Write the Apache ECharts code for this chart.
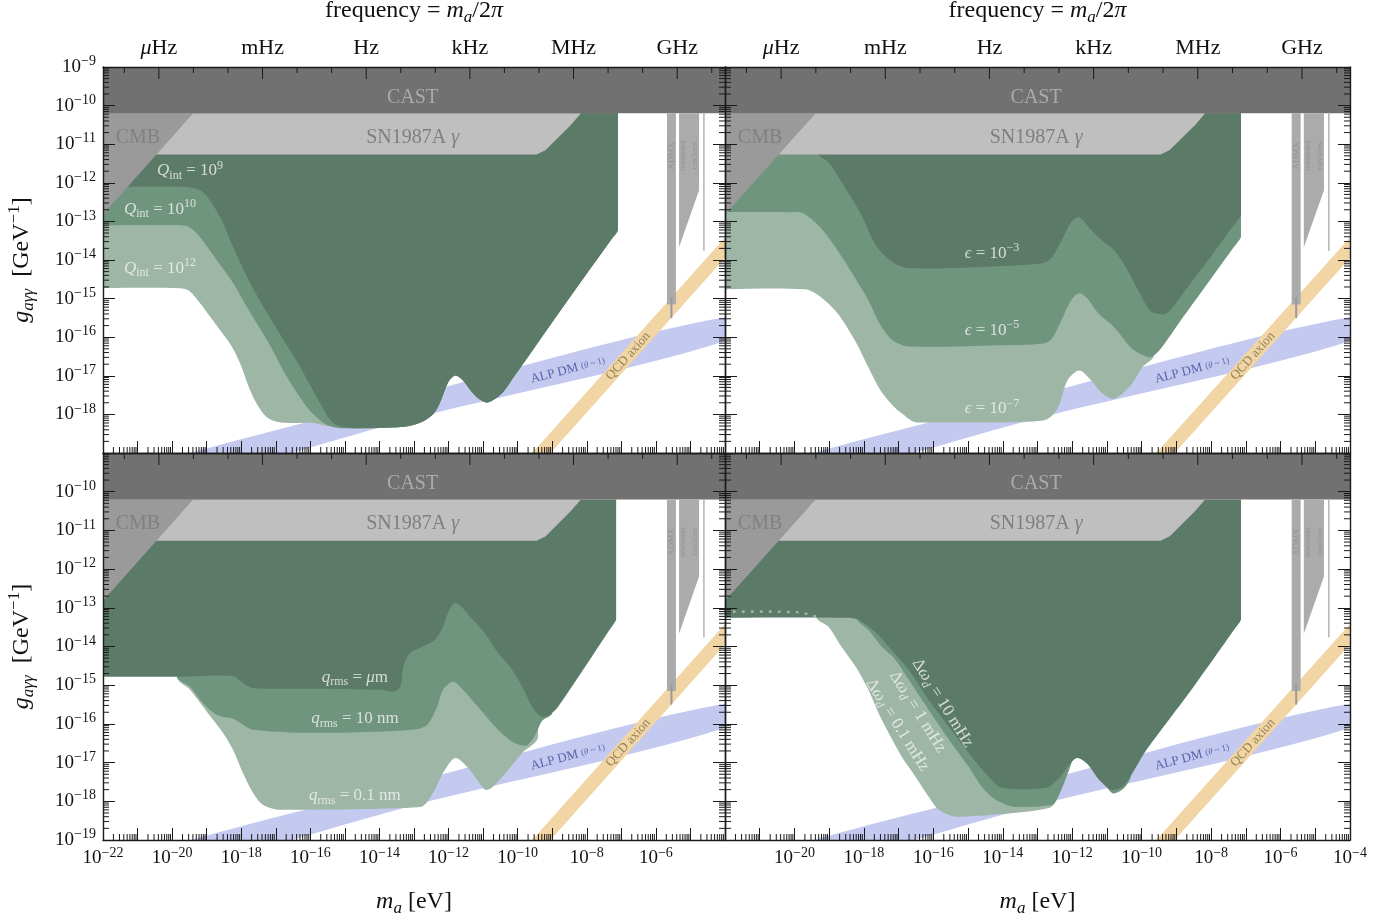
<!DOCTYPE html>
<html>
<head>
<meta charset="utf-8">
<script src="https://cdn.jsdelivr.net/npm/echarts@6/dist/echarts.min.js"></script>
<style>
html, body { margin: 0; padding: 0; background: #fff; }
#chart { width: 1398px; height: 920px; }
</style>
</head>
<body>
<div id="chart"></div>
<script>
// all values are log10: x = log10(m_a / eV), y = log10(g / GeV^-1)
// regions run a little past the left edge (x = -23); the grid clips them
var X_RANGE = [-22, -4];
var Y_RANGE = [-19, -9];
var FREQ_LABELS = ['{i|μ}Hz', 'mHz', 'Hz', 'kHz', 'MHz', 'GHz'];
var FREQ_MAJOR_EXP = [-6, -3, 0, 3, 6, 9];
var FREQ_MINOR_EXP = [-7, -5, -4, -2, -1, 1, 2, 4, 5, 7, 8, 10];
var LOG_H_EV = Math.log10(4.135667e-15); // m_a = h f, h in eV s

// limits shown in every panel
var CAST = [[-22, -9], [-4, -9], [-4, -10.2], [-22, -10.2]];
var SN1987A = [[-22, -10.2], [-8.17, -10.2], [-8.46, -10.5], [-9.19, -11.15], [-9.45, -11.27], [-22, -11.27]];
var CMB = [[-22, -10.2], [-19.39, -10.2], [-22, -12.82]];
var ADMX = [[-5.68, -10.2], [-5.42, -10.2], [-5.42, -15.15], [-5.68, -15.15]];
var ADMX_TAIL = [[-5.55, -15.0], [-5.55, -15.48]];
var CAVITIES = [[-5.33, -10.2], [-4.75, -10.2], [-4.75, -12.19], [-5.33, -13.67]];
var CAVITY_LINE = [[-4.61, -10.2], [-4.61, -13.75]];
var ALP_UPPER = [[-22, -19.7], [-13, -17.5], [-4, -15.48]];
var ALP_LOWER = [[-22, -20.3], [-13, -18.1], [-4, -16.1]];
var QCD_UPPER = [[-10.5, -19.92], [-4, -13.42]];
var QCD_LOWER = [[-10.5, -20.45], [-4, -13.95]];

// top left: Q_int
var TL_EDGE = [[-23, -10.2], [-7.1, -10.2], [-7.1, -12.95], [-7.1, -13.23], [-7.3, -13.48], [-8.55, -15.04], [-10.12, -17.04], [-10.45, -17.45], [-10.87, -17.69], [-11.15, -17.58], [-11.36, -17.38], [-11.6, -17.1], [-11.8, -16.99], [-11.98, -17.12], [-12.09, -17.33], [-12.25, -17.7], [-12.43, -17.98], [-12.81, -18.21], [-13.3, -18.32], [-14.75, -18.36]];
var TL_Q9 = [[-15.33, -18.23], [-15.71, -17.72], [-16.29, -16.78], [-17.07, -15.64], [-17.74, -14.6], [-18.23, -13.67], [-18.61, -12.89], [-19.1, -12.25], [-19.57, -12.11], [-22.5, -12.11], [-23, -12.11]];
var TL_Q10 = [[-15.13, -18.36], [-15.5, -18.28], [-15.71, -18.16], [-16.09, -17.82], [-16.67, -17.04], [-17.25, -16.08], [-17.83, -15.23], [-18.23, -14.6], [-18.7, -14.01], [-19.19, -13.41], [-19.5, -13.15], [-19.77, -13.1], [-22.5, -13.1], [-23, -13.1]];
var TL_Q12 = [[-15.5, -18.3], [-15.91, -18.22], [-16.87, -18.21], [-17.25, -18.08], [-17.5, -17.8], [-17.74, -17.38], [-18.03, -16.68], [-18.3, -16.2], [-18.61, -15.82], [-19.19, -15.12], [-19.5, -14.8], [-19.77, -14.73], [-22.5, -14.73], [-23, -14.73]];

// top right: epsilon
var TR_E3 = [[-19.31, -10.2], [-7.14, -10.2], [-7.14, -12.6], [-7.14, -12.84], [-7.35, -13.1], [-8.04, -13.95], [-8.91, -14.99], [-9.2, -15.32], [-9.4, -15.41], [-9.6, -15.38], [-9.77, -15.3], [-10.09, -14.8], [-10.45, -14.2], [-10.79, -13.75], [-11.25, -13.41], [-11.57, -13.1], [-11.8, -12.89], [-12.03, -13.02], [-12.2, -13.3], [-12.38, -13.62], [-12.6, -13.95], [-12.84, -14.08], [-14.11, -14.16], [-16.71, -14.21], [-17.17, -14.06], [-17.64, -13.64], [-18.1, -12.79], [-18.68, -11.93], [-19.02, -11.46], [-19.31, -11.26]];
var TR_E5 = [[-23, -10.2], [-7.14, -10.2], [-7.14, -13.2], [-7.14, -13.41], [-7.35, -13.67], [-8.04, -14.53], [-8.91, -15.61], [-9.5, -16.35], [-9.77, -16.52], [-10.06, -16.42], [-10.32, -16.26], [-10.79, -15.74], [-11.25, -15.38], [-11.57, -14.99], [-11.8, -14.86], [-12.03, -15.04], [-12.38, -15.69], [-12.6, -16.05], [-12.84, -16.16], [-14.11, -16.21], [-16.71, -16.24], [-17.17, -16.08], [-17.52, -15.69], [-17.87, -15.04], [-18.21, -14.53], [-18.76, -13.75], [-19.23, -13.18], [-19.75, -12.79], [-20.18, -12.76], [-22.5, -12.76], [-23, -12.76]];
var TR_E7 = [[-23, -12.5], [-9.63, -12.5], [-9.63, -16.45], [-9.98, -16.78], [-10.32, -17.25], [-10.79, -17.59], [-11.13, -17.46], [-11.45, -17.12], [-11.8, -16.86], [-12.14, -17.12], [-12.38, -17.77], [-12.6, -18.05], [-12.84, -18.16], [-14.11, -18.21], [-16.48, -18.21], [-16.94, -17.95], [-17.17, -17.77], [-17.52, -17.38], [-17.87, -16.78], [-18.21, -16.16], [-18.76, -15.38], [-19.23, -14.97], [-19.69, -14.76], [-22.5, -14.76], [-23, -14.76]];

// bottom left: q_rms
var BL_UM = [[-23, -10.2], [-7.15, -10.2], [-7.15, -13.1], [-7.15, -13.31], [-7.35, -13.58], [-8.83, -15.56], [-9.05, -15.75], [-9.29, -15.82], [-9.55, -15.6], [-9.87, -15.04], [-10.2, -14.55], [-10.57, -14.16], [-10.8, -13.85], [-11.03, -13.57], [-11.38, -13.23], [-11.6, -13.0], [-11.81, -12.87], [-12.0, -13.1], [-12.16, -13.49], [-12.35, -13.78], [-12.51, -13.9], [-12.82, -14.03], [-13.11, -14.16], [-13.3, -14.5], [-13.4, -15.04], [-13.61, -15.17], [-13.98, -15.12], [-15.92, -15.09], [-17.66, -15.07], [-17.95, -14.94], [-18.24, -14.76], [-19.86, -14.78], [-22.5, -14.78], [-23, -14.78]];
var BL_10NM = [[-19.86, -10.5], [-9.0, -10.5], [-9.0, -15.72], [-9.29, -15.92], [-9.5, -16.3], [-9.76, -16.57], [-10.1, -16.49], [-10.57, -16.15], [-11.15, -15.56], [-11.58, -15.12], [-11.87, -14.91], [-12.16, -15.12], [-12.33, -15.56], [-12.62, -16.02], [-13.03, -16.15], [-15.92, -16.23], [-17.66, -16.15], [-17.95, -16.02], [-18.24, -15.87], [-18.7, -15.77], [-19.11, -15.46], [-19.48, -15.04], [-19.86, -14.78]];
var BL_01NM = [[-19.86, -10.5], [-9.41, -10.5], [-9.41, -16.34], [-9.87, -16.75], [-10.45, -17.37], [-10.89, -17.71], [-11.17, -17.45], [-11.46, -17.11], [-11.81, -16.88], [-12.16, -17.27], [-12.45, -17.78], [-12.82, -18.15], [-16.88, -18.22], [-17.37, -18.09], [-17.66, -17.78], [-17.95, -17.27], [-18.24, -16.67], [-18.53, -16.23], [-18.99, -15.69], [-19.48, -15.12], [-19.86, -14.78]];

// bottom right: delta omega_d
var BR_10MHZ = [[-23, -10.2], [-7.14, -10.2], [-7.14, -13.1], [-7.14, -13.31], [-7.35, -13.58], [-8.53, -15.07], [-9.86, -16.67], [-10.5, -17.58], [-10.84, -17.71], [-11.22, -17.45], [-11.57, -17.03], [-11.86, -16.88], [-12.09, -17.06], [-12.38, -17.4], [-12.75, -17.65], [-14.02, -17.65], [-14.4, -17.37], [-14.98, -16.75], [-15.55, -16.08], [-16.13, -15.38], [-16.71, -14.6], [-17.29, -14.0], [-17.66, -13.64], [-18.16, -13.31], [-18.5, -13.26], [-22.5, -13.26], [-23, -13.26]];
var BR_1MHZ = [[-18.2, -12.5], [-18.2, -13.28], [-17.87, -13.57], [-17.49, -14.0], [-17.09, -14.34], [-16.71, -14.86], [-16.13, -15.64], [-15.55, -16.41], [-14.98, -17.11], [-14.6, -17.63], [-14.2, -17.96], [-13.62, -18.15], [-12.58, -18.09], [-12.38, -17.84], [-12.09, -17.19], [-11.86, -16.72], [-11.51, -16.88], [-11.22, -17.32], [-10.84, -17.79], [-10.5, -17.65], [-10.3, -17.3], [-10.3, -12.5]];
var BR_01MHZ = [[-19.37, -12.5], [-19.37, -13.26], [-19.02, -13.49], [-18.65, -14.0], [-18.24, -14.52], [-17.87, -15.12], [-17.58, -15.72], [-17.29, -16.23], [-16.91, -16.85], [-16.51, -17.37], [-16.13, -17.89], [-15.84, -18.22], [-15.35, -18.4], [-14.31, -18.35], [-12.66, -18.17], [-12.46, -17.96], [-12.2, -16.0], [-12.2, -12.5]];
var BR_DOTTED = [[-22, -13.1], [-20.5, -13.1], [-19.8, -13.12], [-19.4, -13.22]];

var FONT = '"Liberation Serif", "DejaVu Serif", serif';
var INK = '#1a1a1a';
var COL = {
  cast: '#717171', sn: '#bfbfbf', cmb: '#9a9a9a', dark: '#5b7a67', mid: '#70957e', light: '#9db6a6',
  alp: '#c3c9ef', qcd: '#f1d5a5', admx: '#ababab'
};
var MINOR = [2, 3, 4, 5, 6, 7, 8, 9].map(function (k) { return Math.log10(k); });

function rich(size) {
  var s = Math.round(size * 0.7);
  var lh = Math.round(size * 1.3);
  return {
    t: { fontFamily: FONT, fontSize: size, lineHeight: lh },
    i: { fontFamily: FONT, fontSize: size, lineHeight: lh, fontStyle: 'italic' },
    sub: { fontFamily: FONT, fontSize: s, lineHeight: s, verticalAlign: 'bottom' },
    subi: { fontFamily: FONT, fontSize: s, lineHeight: s, verticalAlign: 'bottom', fontStyle: 'italic' },
    sup: { fontFamily: FONT, fontSize: s, lineHeight: s, verticalAlign: 'top' },
    p: { fontFamily: FONT, fontSize: Math.round(size * 0.72) },
    pi: { fontFamily: FONT, fontSize: Math.round(size * 0.72), fontStyle: 'italic' }
  };
}

function area(g, pts, color, z, smooth) {
  return {
    type: 'custom', xAxisIndex: 2 * g, yAxisIndex: 2 * g, z: z, silent: true, clip: true,
    data: pts,
    renderItem: function (params, api) {
      if (params.dataIndex !== 0) return null;
      var px = pts.map(function (p) { return api.coord(p); });
      var shape = { points: px };
      if (smooth) {
        var xs = px.map(function (q) { return q[0]; }), ys = px.map(function (q) { return q[1]; });
        shape.smooth = smooth;
        shape.smoothConstraint = [[Math.min.apply(null, xs), Math.min.apply(null, ys)], [Math.max.apply(null, xs), Math.max.apply(null, ys)]];
      }
      return { type: 'polygon', shape: shape, style: { fill: color } };
    }
  };
}

function path(g, pts, color, width, dash, z) {
  return {
    type: 'line', xAxisIndex: 2 * g, yAxisIndex: 2 * g, data: pts, symbol: 'none', z: z, silent: true,
    lineStyle: { color: color, width: width, type: dash || 'solid', cap: 'round' }
  };
}

function labels(g, items) {
  return {
    type: 'scatter', xAxisIndex: 2 * g, yAxisIndex: 2 * g, z: 15, silent: true, symbolSize: 1,
    itemStyle: { color: 'rgba(0,0,0,0)' },
    label: { show: true, position: 'inside' },
    data: items.map(function (it) {
      return {
        value: [it[0], it[1]],
        label: {
          show: true, position: 'inside', formatter: (function (s) { return function () { return s; }; })(it[2]),
          color: it[3], fontSize: it[4], fontFamily: FONT, rotate: it[5] || 0, rich: rich(it[4]),
          lineHeight: Math.round(it[4] * 1.1)
        }
      };
    })
  };
}

function ticks(g) {
  var row = g >> 1;
  var data = [];
  for (var d = X_RANGE[0]; d < X_RANGE[1]; d++) MINOR.forEach(function (f) { data.push([d + f, 0, 0]); });
  for (var e = Y_RANGE[0]; e < Y_RANGE[1]; e++) MINOR.forEach(function (f) { data.push([e + f, 1, 0]); });
  FREQ_MINOR_EXP.forEach(function (k) { data.push([k + LOG_H_EV, 2, 0]); });
  FREQ_MAJOR_EXP.forEach(function (k, i) { data.push([k + LOG_H_EV, 3, i]); });
  function ln(x1, y1, x2, y2) {
    return { type: 'line', shape: { x1: x1, y1: y1, x2: x2, y2: y2 }, style: { stroke: INK, lineWidth: 1 } };
  }
  return {
    type: 'custom', xAxisIndex: 2 * g, yAxisIndex: 2 * g, z: 30, silent: true, clip: false,
    data: data,
    renderItem: function (params, api) {
      var v = api.value(0), kind = api.value(1), idx = api.value(2);
      var ch = [];
      if (kind === 0) {
        var p = api.coord([v, Y_RANGE[0]]);
        ch.push(ln(p[0], p[1], p[0], p[1] - 6));
      } else if (kind === 1) {
        var a = api.coord([X_RANGE[0], v]), b = api.coord([X_RANGE[1], v]);
        ch.push(ln(a[0], a[1], a[0] + 6, a[1]), ln(b[0], b[1], b[0] - 6, b[1]));
      } else {
        var q = api.coord([v, Y_RANGE[1]]);
        ch.push(ln(q[0], q[1], q[0], q[1] + (kind === 3 ? 12 : 6)));
        if (kind === 3 && row === 0) {
          ch.push({
            type: 'text', x: q[0], y: q[1] - 8,
            style: {
              text: FREQ_LABELS[idx], fill: '#111', font: '22px ' + FONT,
              align: 'center', verticalAlign: 'bottom', textAlign: 'center', textVerticalAlign: 'bottom',
              rich: { i: { fontStyle: 'italic', fontFamily: FONT, fontSize: 22 } }
            }
          });
        }
      }
      return { type: 'group', children: ch };
    }
  };
}

var PANELS = [
  {
    areas: [TL_EDGE.concat(TL_Q12), TL_EDGE.concat(TL_Q10), TL_EDGE.concat(TL_Q9)],
    text: [
      [-19.48, -11.69, '{i|Q}{sub|int}{t| = 10}{sup|9}', '#f4f4f4', 17],
      [-20.35, -12.68, '{i|Q}{sub|int}{t| = 10}{sup|10}', '#f4f4f4', 17],
      [-20.35, -14.21, '{i|Q}{sub|int}{t| = 10}{sup|12}', '#f4f4f4', 17]
    ]
  },
  {
    areas: [TR_E7, TR_E5, TR_E3],
    text: [
      [-14.31, -13.82, '{i|ϵ}{t| = 10}{sup|−3}', '#f4f4f4', 17],
      [-14.31, -15.82, '{i|ϵ}{t| = 10}{sup|−5}', '#f4f4f4', 17],
      [-14.31, -17.85, '{i|ϵ}{t| = 10}{sup|−7}', '#f4f4f4', 17]
    ]
  },
  {
    areas: [BL_01NM, BL_10NM, BL_UM],
    text: [
      [-14.71, -14.79, '{i|q}{sub|rms}{t| = }{i|μ}{t|m}', '#f4f4f4', 17],
      [-14.71, -15.87, '{i|q}{sub|rms}{t| = 10 nm}', '#f4f4f4', 17],
      [-14.71, -17.86, '{i|q}{sub|rms}{t| = 0.1 nm}', '#f4f4f4', 17]
    ]
  },
  {
    areas: [BR_01MHZ, BR_1MHZ, BR_10MHZ],
    text: [
      [-15.73, -15.46, '{t|Δ}{i|ω}{subi|d}{t| = 10 mHz}', '#f4f4f4', 17, -58],
      [-16.45, -15.69, '{t|Δ}{i|ω}{subi|d}{t| = 1 mHz}', '#f4f4f4', 17, -58],
      [-17.03, -16.03, '{t|Δ}{i|ω}{subi|d}{t| = 0.1 mHz}', '#f4f4f4', 17, -58]
    ],
    dotted: BR_DOTTED
  }
];

var COMMON_TEXT = [
  [-13.04, -9.79, '{t|CAST}', '#b9b9b9', 20],
  [-13.04, -10.82, '{t|SN1987A }{i|γ}', '#6f6f6f', 20],
  [-20.99, -10.82, '{t|CMB}', '#7b7b7b', 20],
  [-5.55, -11.3, '{t|ADMX}', '#8c8c8c', 9, 90],
  [-5.04, -11.3, '{t|resonant}\n{t|cavities}', '#8c8c8c', 9, 90],
  [-8.55, -16.85, '{t|ALP DM }{p|(}{pi|θ}{p| ~ 1)}', '#3f4c9c', 13, 14.5],
  [-6.8, -16.49, '{t|QCD axion}', '#7c6a44', 13, 48]
];

var grids = [
  { left: 103, top: 67, width: 622, height: 386 },
  { left: 725, top: 67, width: 625, height: 386 },
  { left: 103, top: 453, width: 622, height: 387 },
  { left: 725, top: 453, width: 625, height: 387 }
].map(function (g) { g.containLabel = false; g.outerBoundsMode = 'none'; return g; });

var tickRich = {
  b: { fontFamily: FONT, fontSize: 19, lineHeight: 25, color: '#111' },
  s: { fontFamily: FONT, fontSize: 14, lineHeight: 14, verticalAlign: 'top', color: '#111' }
};
var axisLine = { show: true, onZero: false, lineStyle: { color: INK, width: 1.4 } };

var xAxes = [], yAxes = [], series = [];
grids.forEach(function (gr, g) {
  var row = g >> 1, col = g & 1;
  xAxes.push({
    type: 'value', gridIndex: g, min: X_RANGE[0], max: X_RANGE[1], interval: 1, position: 'bottom', z: 30,
    axisLine: axisLine, splitLine: { show: false },
    axisTick: { inside: true, length: 12, lineStyle: { color: INK, width: 1 } },
    axisLabel: {
      show: row === 1, margin: 6, rich: tickRich,
      formatter: function (v) {
        if (v % 2 !== 0 || (col === 0 && v === -4) || (col === 1 && v === -22)) return '';
        return '{b|10}{s|−' + Math.abs(v) + '}';
      }
    },
    name: row === 1 ? '{i|m}{subi|a}{t| [eV]}' : '', nameLocation: 'middle', nameGap: 46,
    nameTextStyle: { color: '#111', rich: rich(24) }
  });
  xAxes.push({
    type: 'value', gridIndex: g, min: X_RANGE[0], max: X_RANGE[1], position: 'top', z: 30,
    axisLine: axisLine, splitLine: { show: false }, axisTick: { show: false }, axisLabel: { show: false },
    name: row === 0 ? '{t|frequency = }{i|m}{subi|a}{t|/2}{i|π}' : '', nameLocation: 'middle', nameGap: 41,
    nameTextStyle: { color: '#111', rich: rich(24) }
  });
  yAxes.push({
    type: 'value', gridIndex: g, min: Y_RANGE[0], max: Y_RANGE[1], interval: 1, position: 'left', z: 30,
    axisLine: axisLine, splitLine: { show: false },
    axisTick: { inside: true, length: 12, lineStyle: { color: INK, width: 1 } },
    axisLabel: {
      show: col === 0, margin: 7, rich: tickRich,
      formatter: function (v) {
        if ((row === 0 && v === -19) || (row === 1 && v === -9)) return '';
        return '{b|10}{s|−' + Math.abs(v) + '}';
      }
    },
    name: col === 0 ? '{i|g}{subi|aγγ}{t|  [GeV}{sup|−1}{t|]}' : '', nameLocation: 'middle', nameGap: 66,
    nameRotate: 90, nameTextStyle: { color: '#111', rich: rich(24) }
  });
  yAxes.push({
    type: 'value', gridIndex: g, min: Y_RANGE[0], max: Y_RANGE[1], interval: 1, position: 'right', z: 30,
    axisLine: axisLine, splitLine: { show: false },
    axisTick: { inside: true, length: 12, lineStyle: { color: INK, width: 1 } },
    axisLabel: { show: false }
  });

  var p = PANELS[g];
  series.push(area(g, ALP_UPPER.concat(ALP_LOWER.slice().reverse()), COL.alp, 2, 0.3));
  series.push(area(g, QCD_UPPER.concat(QCD_LOWER.slice().reverse()), COL.qcd, 3));
  series.push(area(g, p.areas[0], COL.light, 4, 0.3));
  series.push(area(g, p.areas[1], COL.mid, 5, 0.3));
  series.push(area(g, p.areas[2], COL.dark, 6, 0.3));
  series.push(area(g, SN1987A, COL.sn, 7));
  series.push(area(g, CMB, COL.cmb, 8));
  series.push(area(g, CAST, COL.cast, 9));
  series.push(area(g, ADMX, COL.admx, 9));
  series.push(area(g, CAVITIES, COL.admx, 9));
  series.push(path(g, ADMX_TAIL, '#9a9a9a', 2, 'solid', 9));
  series.push(path(g, CAVITY_LINE, '#b3b3b3', 1.5, 'solid', 9));
  if (p.dotted) series.push(path(g, p.dotted, COL.light, 2.6, [0.5, 8.5], 10));
  series.push(labels(g, COMMON_TEXT.concat(p.text)));
  series.push(ticks(g));
});

var chart = echarts.init(document.getElementById('chart'));
chart.setOption({
  animation: false,
  textStyle: { fontFamily: FONT },
  grid: grids,
  xAxis: xAxes,
  yAxis: yAxes,
  series: series
});
</script>
</body>
</html>
